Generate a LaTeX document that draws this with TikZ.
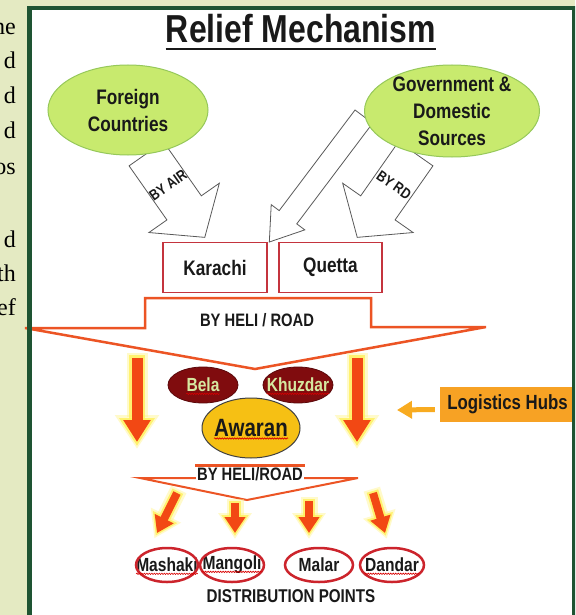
\documentclass[tikz,border=0pt]{standalone}
\usepackage{fontspec}
\newfontfamily\narrowsf{Liberation Sans}[FakeStretch=0.82]
\newfontfamily\bodyserif{Liberation Serif}
\usetikzlibrary{shapes.geometric,arrows.meta,decorations.pathmorphing}

\definecolor{pagebg}{RGB}{228,234,194}
\definecolor{framegreen}{RGB}{30,84,50}
\definecolor{srcfill}{RGB}{200,234,110}
\definecolor{srcdraw}{RGB}{150,200,90}
\definecolor{cityred}{RGB}{196,52,62}
\definecolor{routeorange}{RGB}{236,84,36}
\definecolor{flowred}{RGB}{242,72,20}
\definecolor{glowyellow}{RGB}{255,240,90}
\definecolor{hubmaroon}{RGB}{128,12,14}
\definecolor{hubtext}{RGB}{214,232,160}
\definecolor{awarangold}{RGB}{246,192,20}
\definecolor{pointred}{RGB}{204,36,44}
\definecolor{logorange}{RGB}{247,162,36}
\definecolor{textdark}{RGB}{25,25,25}

\newcommand{\fsize}[2]{\fontsize{#1}{#2}\selectfont}

\begin{document}
\begin{tikzpicture}[x=1pt, y=-1pt,
  every node/.style={font=\narrowsf\bfseries, text=textdark, inner sep=0pt},
  source/.style={ellipse, draw=srcdraw, fill=srcfill, line width=1pt},
  srctext/.style={align=center, font=\narrowsf\bfseries\fsize{21}{27}},
  city/.style={rectangle, draw=cityred, line width=1.6pt, fill=white, minimum height=50pt, font=\narrowsf\bfseries\fsize{21}{24}},
  blockarrow/.style={draw=black!65, fill=white, line width=0.8pt},
  arrowtext/.style={font=\narrowsf\bfseries\fsize{15}{17}},
  routeshape/.style={draw=routeorange, fill=white, line width=2.5pt, line join=miter},
  routetext/.style={font=\narrowsf\bfseries\fsize{18}{21}},
  bigflow/.style={draw=flowred, line width=11pt, -{Triangle[width=26pt,length=22pt]},
    preaction={draw=glowyellow!70, opacity=.45, line width=21pt, shorten >=-7pt, shorten <=-5pt, -{Triangle[width=42pt,length=34pt]}},
    preaction={draw=glowyellow, opacity=.8, line width=16pt, shorten >=-4pt, shorten <=-3pt, -{Triangle[width=34pt,length=28pt]}}},
  smallflow/.style={draw=flowred, line width=8pt, -{Triangle[width=20pt,length=16pt]},
    preaction={draw=glowyellow!70, opacity=.45, line width=17pt, shorten >=-6pt, shorten <=-4pt, -{Triangle[width=32pt,length=26pt]}},
    preaction={draw=glowyellow, opacity=.8, line width=12pt, shorten >=-3pt, shorten <=-2pt, -{Triangle[width=26pt,length=21pt]}}},
  hubsmall/.style={ellipse, fill=hubmaroon, draw=hubmaroon!70!black, line width=0.8pt, minimum width=70pt, minimum height=36pt},
  hubsmalltext/.style={text=hubtext, font=\narrowsf\bfseries\fsize{19}{22}},
  hubmain/.style={ellipse, fill=awarangold, draw=black!75, line width=1pt, minimum width=98pt, minimum height=60pt},
  hubmaintext/.style={font=\narrowsf\bfseries\fsize{25}{28}},
  droppoint/.style={ellipse, draw=pointred, line width=2.5pt, minimum height=34pt},
  droptext/.style={font=\narrowsf\bfseries\fsize{19}{22}},
  squiggle/.style={draw=red!85!black, line width=0.6pt, decorate, decoration={snake, amplitude=0.7pt, segment length=2.5pt}},
  logbox/.style={rectangle, fill=logorange, minimum width=135pt, minimum height=35pt, font=\narrowsf\bfseries\fsize{20.5}{24}},
  hubarrow/.style={draw=logorange!90!yellow, line width=5pt, -{Triangle[width=17pt,length=15pt]}},
]
\useasboundingbox (0,0) rectangle (575,615);
\clip (0,0) rectangle (575,615);
\fill[pagebg] (0,0) rectangle (575,615);
\fill[white] (29.5,8) rectangle (574,620);

% cut-off text of the page on the left
\foreach \word/\yb in {the/35, d/69, d/104, d/139, os/174, d/247, th/281, ef/315}
  \node[anchor=base east, font=\bodyserif\fsize{24}{28}, text=black] (side-\yb) at (16,\yb) {\word};

% title
\node[anchor=base, font=\narrowsf\bfseries\fsize{39}{44}] (title) at (301,43) {Relief Mechanism};
\draw[textdark, line width=2.5pt] ([yshift=-6pt]title.base west) -- ([yshift=-6pt]title.base east);

% block arrows from the sources
\begin{scope}[shift={(152,162)}, rotate=35]
  \draw[blockarrow] (-21,-10) -- (-21,56) -- (-43,56) -- (0,92) -- (43,56) -- (21,56) -- (21,-10) -- cycle;
  \node[arrowtext, rotate=35] (byair) at (0,28) {BY AIR};
\end{scope}
\begin{scope}[shift={(410,162)}, rotate=-35]
  \draw[blockarrow] (-21,-10) -- (-21,56) -- (-43,56) -- (0,92) -- (43,56) -- (21,56) -- (21,-10) -- cycle;
  \node[arrowtext, rotate=-35] (byrd) at (0,28) {BY RD};
\end{scope}
\begin{scope}[shift={(359,123)}, rotate=-37]
  \draw[blockarrow] (-11,-8) -- (-11,118) -- (-21,118) -- (0,149) -- (21,118) -- (11,118) -- (11,-8) -- cycle;
\end{scope}

% sources
\node[source, minimum width=160pt, minimum height=90pt] (foreign) at (128,110) {};
\node[srctext] (foreign-text) at (foreign) {Foreign\\Countries};
\node[source, minimum width=175pt, minimum height=92pt] (govt) at (452,111) {};
\node[srctext] (govt-text) at (govt) {Government \&\\Domestic\\Sources};

% cities
\node[city, minimum width=104pt] (karachi) at (215,267.5) {Karachi};
\node[city, minimum width=103pt] (quetta) at (330.5,267.5) {Quetta};

% big route arrow
\draw[routeshape] (145,298) -- (371,298) -- (371,327) -- (486,327) -- (255,369) -- (25,328) -- (145,328) -- cycle;
\node[routetext] (heliroad) at (257,320) {BY HELI / ROAD};

\coordinate (flow-l-top) at (137,358);
\coordinate (flow-l-end) at (137,442);
\coordinate (flow-r-top) at (357,358);
\coordinate (flow-r-end) at (357,442);
\draw[bigflow] (flow-l-top) -- (flow-l-end);
\draw[bigflow] (flow-r-top) -- (flow-r-end);

% logistics hubs
\node[hubsmall] (bela) at (203,385) {};
\node[hubsmalltext] (bela-text) at (bela) {Bela};
\node[hubsmall] (khuzdar) at (298,385) {};
\node[hubsmalltext] (khuzdar-text) at (khuzdar) {Khuzdar};
\node[hubmain] (awaran) at (251,428) {};
\node[hubmaintext] (awaran-text) at (awaran) {Awaran};
\foreach \hub in {bela, khuzdar, awaran}
  \draw[squiggle] ([yshift=-2pt]\hub-text.base west) -- ([yshift=-2pt]\hub-text.base east);

\node[logbox] (hubs) at (507.5,404.5) {Logistics Hubs};
\coordinate (hubs-tip) at (397,410);
\draw[hubarrow] ([shift={(-5pt,-5pt)}]hubs.west) -- (hubs-tip);

% second route
\draw[routeshape, line width=2pt] (140,478) -- (358,478) -- (247,500) -- cycle;
\node[routetext, fill=white, inner sep=1.5pt] (heliroad2) at (250,474) {BY HELI/ROAD};
\draw[routeorange, line width=2.5pt] (heliroad2.north west) -- (heliroad2.north east);

\foreach \a/\xs/\ys/\xe/\ye in {1/177/493/157/533, 2/235/503/235/533, 3/309/501/309/533, 4/373/493/385/533} {
  \coordinate (drop-\a-top) at (\xs,\ys);
  \coordinate (drop-\a-end) at (\xe,\ye);
  \draw[smallflow] (drop-\a-top) -- (drop-\a-end);
}

% distribution points
\foreach \name/\x/\w/\word in {mashaki/167/62/Mashaki, mangoli/232/64/Mangoli, malar/319/68/Malar, dandar/392/64/Dandar} {
  \node[droptext] (\name-text) at (\x,565) {\word};
  \node[droppoint, minimum width=\w pt] (\name) at (\x,565) {};
}
\foreach \name in {mashaki, mangoli, dandar}
  \draw[squiggle] ([yshift=-2pt]\name-text.base west) -- ([yshift=-2pt]\name-text.base east);
\node[droptext, font=\narrowsf\bfseries\fsize{18.5}{22}] (points) at (291,596) {DISTRIBUTION POINTS};

% frame
\draw[framegreen, line width=4.5pt] (29.5,630) -- (29.5,8) -- (574,8) -- (574,630);
\end{tikzpicture}
\end{document}
